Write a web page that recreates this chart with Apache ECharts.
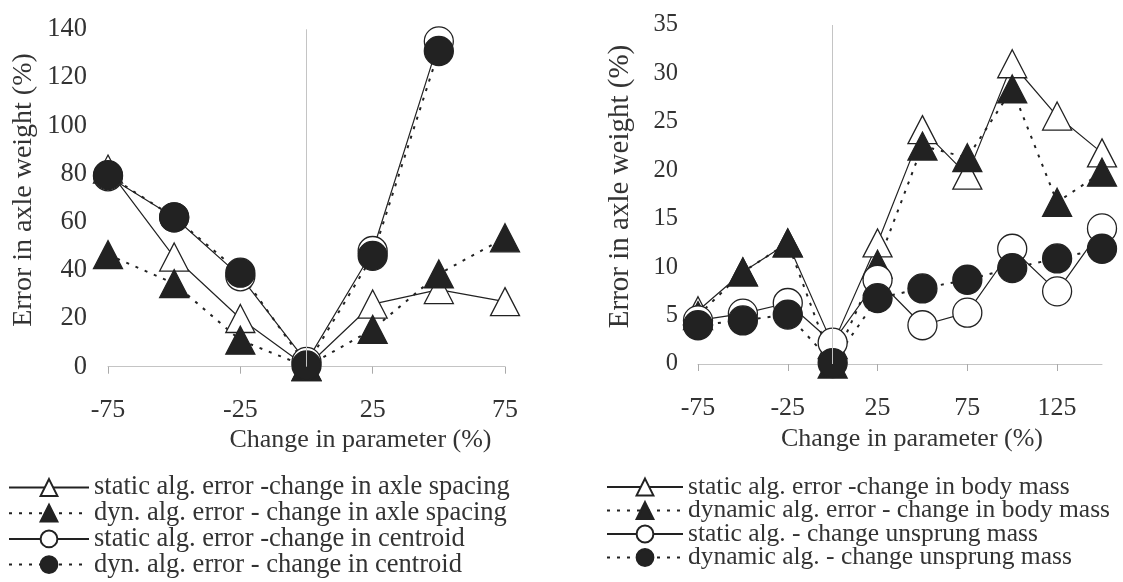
<!DOCTYPE html>
<html>
<head>
<meta charset="utf-8">
<script src="https://cdn.jsdelivr.net/npm/echarts@6/dist/echarts.min.js"></script>
<style>
  html, body { margin: 0; padding: 0; background: #ffffff; }
  #chart { width: 1123px; height: 582px; }
</style>
</head>
<body>
<div id="chart"></div>
<script>
// Left panel: error for changes in axle spacing and centroid position
const leftCategories = ['-75', '-50', '-25', '0', '25', '50', '75'];
const leftStaticAxle = [82, 45.5, 20, 0, 26, 32, 27];
const leftDynAxle = [46.5, 34.5, 11, 0, 15.5, 38.5, 53.5];
const leftStaticCentroid = [79, 62, 37.5, 2, 48, 135, null];
const leftDynCentroid = [79.5, 62, 39, 0.5, 46, 131, null];
const leftYMax = 140;
const leftYStep = 20;

// Right panel: error for changes in body mass and unsprung mass
const rightCategories = ['-75', '-50', '-25', '0', '25', '50', '75', '100', '125', '150'];
const rightStaticBody = [5.5, 9.5, 12.5, 2, 12.5, 24.2, 19.5, 31, 25.6, 21.8];
const rightDynBody = [5, 9.5, 12.5, 0, 10.3, 22.5, 21.3, 28.4, 16.7, 19.8];
const rightStaticUnsprung = [4.5, 5.2, 6.3, 2.2, 8.7, 4.0, 5.3, 11.9, 7.5, 14.0];
const rightDynUnsprung = [4.0, 4.5, 5.1, 0.1, 6.8, 7.8, 8.7, 9.9, 10.9, 11.9];
const rightYMax = 35;
const rightYStep = 5;

const axisTitle = 'Change in parameter (%)';
const valueTitle = 'Error in axle weight (%)';
const leftNames = [
  'static alg. error -change in axle spacing',
  'dyn. alg. error - change in axle spacing',
  'static alg. error -change in centroid',
  'dyn. alg. error - change in centroid'
];
const rightNames = [
  'static alg. error -change in body mass',
  'dynamic alg. error - change in body mass',
  'static alg. - change unsprung mass',
  'dynamic alg. - change unsprung mass'
];

const FONT = "'Liberation Serif', 'Times New Roman', serif";
const INK = '#222222';
const TEXT = '#333333';
const AXIS = '#c4c4c4';
const DOTS = [3, 7];

function seriesDef(name, data, gridIdx, symbol, filled, dotted) {
  return {
    name: name,
    type: 'line',
    xAxisIndex: gridIdx,
    yAxisIndex: gridIdx,
    data: data,
    symbol: symbol,
    symbolSize: symbol === 'triangle' ? [29, 28] : 29,
    showAllSymbol: true,
    connectNulls: false,
    animation: false,
    lineStyle: { color: INK, width: dotted ? 2 : 1.2, type: dotted ? DOTS : 'solid' },
    itemStyle: {
      color: filled ? INK : '#ffffff',
      borderColor: INK,
      borderWidth: 1.3
    },
    emphasis: { disabled: true }
  };
}

// faint vertical line at zero change
function zeroLine() {
  return {
    silent: true,
    symbol: ['none', 'none'],
    label: { show: false },
    lineStyle: { color: AXIS, width: 1, type: 'solid' },
    data: [{ xAxis: '0' }]
  };
}

function xAxisDef(gridIdx, cats, labelMargin, gap, shift) {
  return {
    type: 'category',
    gridIndex: gridIdx,
    data: cats,
    boundaryGap: false,
    axisLine: { show: true, lineStyle: { color: AXIS, width: 1 } },
    axisTick: { show: true, interval: 1, length: 7, lineStyle: { color: '#aaaaaa' } },
    axisLabel: { interval: 1, margin: labelMargin, fontFamily: FONT, fontSize: 26, color: TEXT },
    splitLine: { show: false },
    name: axisTitle,
    nameLocation: 'middle',
    nameGap: gap,
    nameTextStyle: { fontFamily: FONT, fontSize: 26, color: TEXT, padding: [0, 0, 0, shift] }
  };
}

function yAxisDef(gridIdx, max, step, labelMargin, gap, fontSize, tickFont) {
  return {
    type: 'value',
    gridIndex: gridIdx,
    min: 0,
    max: max,
    interval: step,
    axisLine: { show: false },
    axisTick: { show: false },
    splitLine: { show: false },
    axisLabel: { margin: labelMargin, fontFamily: FONT, fontSize: tickFont, color: TEXT },
    name: valueTitle,
    nameLocation: 'middle',
    nameGap: gap,
    nameRotate: 90,
    nameTextStyle: { fontFamily: FONT, fontSize: fontSize, color: TEXT, padding: [0, 0, 0, 16] }
  };
}

function legendDef(names, left, top, width, fontSize, gap) {
  return {
    data: names,
    orient: 'vertical',
    left: left,
    top: top,
    height: 120,
    padding: 0,
    itemWidth: width,
    itemHeight: 21,
    itemGap: gap,
    selectedMode: false,
    textStyle: { fontFamily: FONT, fontSize: fontSize, color: TEXT, lineHeight: 22 }
  };
}

const s0 = seriesDef(leftNames[0], leftStaticAxle, 0, 'triangle', false, false);
s0.markLine = zeroLine();
const r0 = seriesDef(rightNames[0], rightStaticBody, 1, 'triangle', false, false);
r0.markLine = zeroLine();

const option = {
  backgroundColor: '#ffffff',
  animation: false,
  grid: [
    { left: 108, right: 618, top: 29.3, bottom: 215.3 },
    { left: 698, right: 21, top: 25, bottom: 218 }
  ],
  xAxis: [
    xAxisDef(0, leftCategories, 30, 60, 108),
    xAxisDef(1, rightCategories, 31, 58, 24)
  ],
  yAxis: [
    yAxisDef(0, leftYMax, leftYStep, 21, 70, 28, 26.5),
    yAxisDef(1, rightYMax, rightYStep, 20, 63, 29, 24.5)
  ],
  legend: [
    legendDef(leftNames, 8, 474, 80, 26.5, -1.3),
    legendDef(rightNames, 606, 474, 76, 25.5, -2.5)
  ],
  series: [
    s0,
    seriesDef(leftNames[1], leftDynAxle, 0, 'triangle', true, true),
    seriesDef(leftNames[2], leftStaticCentroid, 0, 'circle', false, false),
    seriesDef(leftNames[3], leftDynCentroid, 0, 'circle', true, true),
    r0,
    seriesDef(rightNames[1], rightDynBody, 1, 'triangle', true, true),
    seriesDef(rightNames[2], rightStaticUnsprung, 1, 'circle', false, false),
    seriesDef(rightNames[3], rightDynUnsprung, 1, 'circle', true, true)
  ]
};

const chart = echarts.init(document.getElementById('chart'));
chart.setOption(option);
</script>
</body>
</html>
